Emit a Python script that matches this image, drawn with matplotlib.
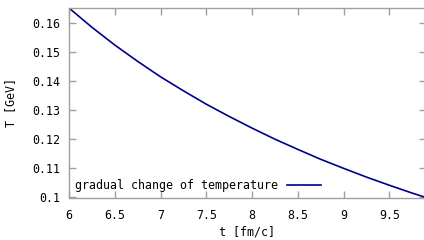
import matplotlib
matplotlib.use("Agg")
import matplotlib.pyplot as plt

## values
t_vals = [6.0, 6.25, 6.5, 6.75, 7.0, 7.25, 7.5, 7.75, 8.0, 8.25, 8.5, 8.75, 9.0, 9.25, 9.5, 9.75, 9.9]
T_vals = [0.165, 0.1584, 0.1523, 0.1467, 0.1414, 0.1366, 0.1320, 0.1278, 0.1238,
          0.1200, 0.1165, 0.1131, 0.1100, 0.1070, 0.1042, 0.1015, 0.1000]

x_ticks = [6, 6.5, 7, 7.5, 8, 8.5, 9, 9.5]
x_tick_labels = ["6", "6.5", "7", "7.5", "8", "8.5", "9", "9.5"]
y_ticks = [0.10, 0.11, 0.12, 0.13, 0.14, 0.15, 0.16]
y_tick_labels = ["0.1", "0.11", "0.12", "0.13", "0.14", "0.15", "0.16"]

series_label = "gradual change of temperature"

plt.rcParams['font.family'] = ['DejaVu Sans Mono']
plt.rcParams['font.size'] = 8.4

fig = plt.figure(figsize=(4.24, 2.4), dpi=100)
ax = fig.add_axes([69/424, 1 - 197.5/240, 357/424, (197.5 - 8)/240])

ax.plot(t_vals, T_vals, color="#00008b", lw=1.2, label=series_label)

ax.set_xlim(6, 9.9)
ax.set_ylim(0.1, 0.165)
ax.set_xticks(x_ticks)
ax.set_xticklabels(x_tick_labels)
ax.set_yticks(y_ticks)
ax.set_yticklabels(y_tick_labels)

border = "#a0a0a0"
for sp in ax.spines.values():
    sp.set_color(border)
    sp.set_linewidth(1.0)
ax.tick_params(direction="in", length=5, width=1, color=border,
               top=True, right=True, labelsize=8.4, pad=6)
ax.tick_params(axis="x", pad=8)

ax.set_xlabel("t [fm/c]", labelpad=3)
ax.set_ylabel("T [GeV]", labelpad=11)

ax.legend(loc="lower left", frameon=False, markerfirst=False, handlelength=2.9,
          borderaxespad=0.2, borderpad=0.3, handletextpad=0.8, fontsize=8.4)

fig.savefig("out.png", dpi=100)
